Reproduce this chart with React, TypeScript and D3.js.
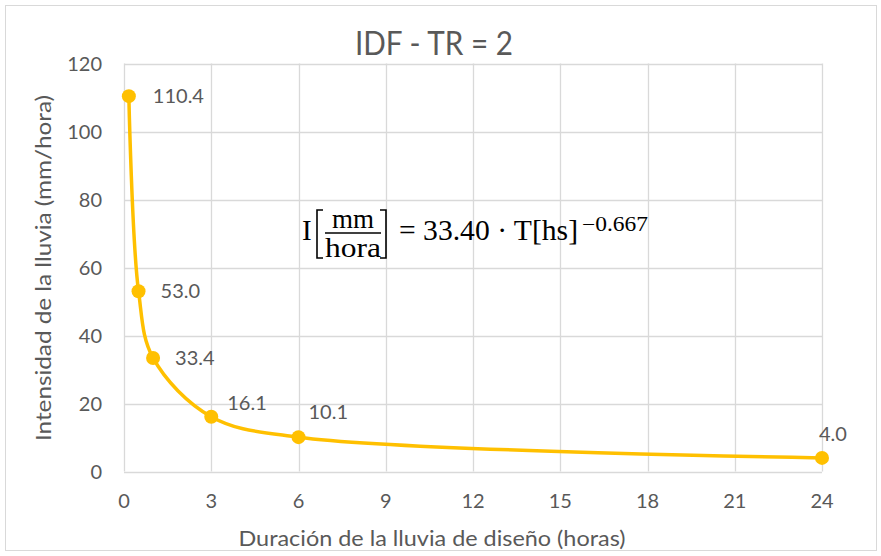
import React, { useEffect, useRef } from 'react';
import * as d3 from 'd3';

const width = 881;
const height = 556;

// duración (horas) e intensidad (mm/hora)
const durations = [1 / 6, 0.5, 1, 3, 6, 24];
const intensities = [110.4, 53.0, 33.4, 16.1, 10.1, 4.0];
const xTicks = [0, 3, 6, 9, 12, 15, 18, 21, 24];
const yTicks = [0, 20, 40, 60, 80, 100, 120];
// where each data label sits relative to its point
const labelOffsets = [
	[24, 7],
	[22, 7],
	[22, 7],
	[16, -7],
	[10, -18],
	[-3, -17],
];

const gray = '#595959';
const grid = '#d9d9d9';
const gold = '#FFC000';
const sans = 'Lato, "Open Sans", sans-serif';
const serif = '"Liberation Serif", "DejaVu Serif", serif';

const App = () => {
	const ref = useRef<SVGSVGElement>(null);

	useEffect(() => {
		const svg = d3.select(ref.current);
		svg.selectAll('*').remove();

		const x = d3.scaleLinear().domain([0, 24]).range([124, 822]);
		const y = d3.scaleLinear().domain([0, 120]).range([471.5, 63.5]);

		svg.append('rect')
			.attr('x', 5.5).attr('y', 5.5)
			.attr('width', 871).attr('height', 545)
			.attr('fill', '#fff').attr('stroke', grid);

		// gridlines
		svg.append('g').selectAll('line').data(yTicks).join('line')
			.attr('x1', x(0)).attr('x2', x(24))
			.attr('y1', (d) => Math.round(y(d)) + 0.5).attr('y2', (d) => Math.round(y(d)) + 0.5)
			.attr('stroke', grid).attr('stroke-width', 1.3);
		svg.append('g').selectAll('line').data(xTicks).join('line')
			.attr('x1', (d) => Math.round(x(d)) + 0.5).attr('x2', (d) => Math.round(x(d)) + 0.5)
			.attr('y1', y(0)).attr('y2', y(120))
			.attr('stroke', grid).attr('stroke-width', 1.3);

		// tick labels
		svg.append('g').selectAll('text').data(yTicks).join('text')
			.attr('x', 102).attr('y', (d) => y(d) + 7)
			.attr('text-anchor', 'end')
			.attr('font-family', sans).attr('font-size', 20).attr('fill', gray)
			.text((d) => d);
		svg.append('g').selectAll('text').data(xTicks).join('text')
			.attr('x', (d) => x(d)).attr('y', 508)
			.attr('text-anchor', 'middle')
			.attr('font-family', sans).attr('font-size', 20).attr('fill', gray)
			.text((d) => d);

		// titles
		svg.append('text')
			.attr('x', 434).attr('y', 55)
			.attr('text-anchor', 'middle')
			.attr('font-family', sans).attr('font-size', 32).attr('fill', gray)
			.attr('textLength', 158).attr('lengthAdjust', 'spacingAndGlyphs')
			.text('IDF - TR = 2');
		svg.append('text')
			.attr('x', 432).attr('y', 546)
			.attr('text-anchor', 'middle')
			.attr('font-family', sans).attr('font-size', 21).attr('fill', gray)
			.attr('textLength', 387).attr('lengthAdjust', 'spacingAndGlyphs')
			.text('Duración de la lluvia de diseño (horas)');
		svg.append('text')
			.attr('transform', 'translate(51,268) rotate(-90)')
			.attr('text-anchor', 'middle')
			.attr('font-family', sans).attr('font-size', 21).attr('fill', gray)
			.attr('textLength', 346).attr('lengthAdjust', 'spacingAndGlyphs')
			.text('Intensidad de la lluvia (mm/hora)');

		// series
		const pts = durations.map((d, i) => [d, intensities[i]] as [number, number]);
		const line = d3.line<[number, number]>()
			.x((d) => x(d[0])).y((d) => y(d[1]))
			.curve(d3.curveCatmullRom.alpha(0.5));
		svg.append('path')
			.attr('d', line(pts))
			.attr('fill', 'none').attr('stroke', gold)
			.attr('stroke-width', 3.5).attr('stroke-linecap', 'round');
		svg.append('g').selectAll('circle').data(pts).join('circle')
			.attr('cx', (d) => x(d[0])).attr('cy', (d) => y(d[1]))
			.attr('r', 7).attr('fill', gold);
		svg.append('g').selectAll('text').data(pts).join('text')
			.attr('x', (d, i) => x(d[0]) + labelOffsets[i][0])
			.attr('y', (d, i) => y(d[1]) + labelOffsets[i][1])
			.attr('font-family', sans).attr('font-size', 20).attr('fill', gray)
			.text((d) => d[1].toFixed(1));

		// equation
		const eq = svg.append('g').attr('fill', '#000').attr('font-family', serif);
		eq.append('text').attr('x', 302).attr('y', 240).attr('font-size', 29).text('I');
		eq.append('path')
			.attr('d', 'M323,210 H317 V258 H323 M380,210 H386 V258 H380')
			.attr('fill', 'none').attr('stroke', '#000').attr('stroke-width', 1.6);
		eq.append('line')
			.attr('x1', 325).attr('x2', 381).attr('y1', 233).attr('y2', 233)
			.attr('stroke', '#000').attr('stroke-width', 1.5);
		eq.append('text').attr('x', 353).attr('y', 228).attr('text-anchor', 'middle')
			.attr('font-size', 27).text('mm');
		eq.append('text').attr('x', 353).attr('y', 257).attr('text-anchor', 'middle')
			.attr('font-size', 27).attr('textLength', 56).attr('lengthAdjust', 'spacingAndGlyphs')
			.text('hora');
		eq.append('text').attr('x', 399).attr('y', 240).attr('font-size', 30)
			.attr('textLength', 179).attr('lengthAdjust', 'spacingAndGlyphs')
			.text('= 33.40 · T[hs]');
		eq.append('text').attr('x', 582).attr('y', 231).attr('font-size', 20)
			.attr('textLength', 66).attr('lengthAdjust', 'spacingAndGlyphs')
			.text('\u22120.667');
	}, []);

	return (
		<svg
			ref={ref}
			width={width}
			height={height}
			style={{ position: 'absolute', left: 0, top: 0, background: '#fff' }}
		/>
	);
};

export default App;
